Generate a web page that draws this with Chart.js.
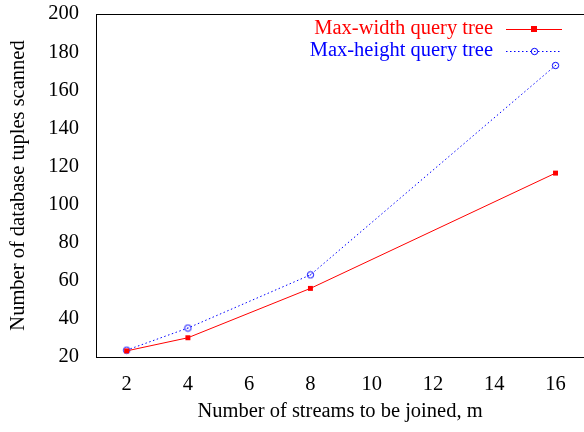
<!DOCTYPE html>
<html>
<head>
<meta charset="utf-8">
<script src="https://cdn.jsdelivr.net/npm/chart.js@4.4.1/dist/chart.umd.min.js"></script>
<style>
html,body{margin:0;padding:0;background:#fff}
#wrap{width:584px;height:432px}
</style>
</head>
<body>
<div id="wrap"><canvas id="c" width="584" height="432"></canvas></div>
<script>
// streams joined (m) and tuples scanned for each query tree
const streams = [2, 4, 8, 16]
const maxWidth = [23.2, 30.1, 56.0, 116.5]
const maxHeight = [23.6, 35.2, 63.1, 173.0]
const xTicks = [2, 4, 6, 8, 10, 12, 14, 16]
const yTicks = [20, 40, 60, 80, 100, 120, 140, 160, 180, 200]

const FONT = "'Liberation Serif', 'Times New Roman', serif"
const FS = 20.5

// open circle with a dot in the middle
function ringDot(){
let c=document.createElement("canvas")
c.width=9; c.height=9
let g=c.getContext("2d")
g.strokeStyle="#0000ff"
g.lineWidth=1
g.beginPath(); g.arc(4.5,4.5,3.2,0,Math.PI*2); g.stroke()
g.fillStyle="#0000ff"
g.fillRect(4,4,1,1)
return c
}
const ring=ringDot()

function pts(vals){
return streams.map((x,i)=>({x:x,y:vals[i]}))
}

/* top frame line + legend drawn inside the plot */
const frameLegend={
id:"frameLegend",
afterDraw(chart){
let ctx=chart.ctx, a=chart.chartArea
ctx.save()
ctx.strokeStyle="#000"
ctx.lineWidth=1
ctx.beginPath()
ctx.moveTo(a.left,a.top+0.5)
ctx.lineTo(a.right,a.top+0.5)
ctx.stroke()

ctx.font=FS+"px "+FONT
ctx.textAlign="right"
ctx.textBaseline="middle"
chart.data.datasets.forEach((ds,i)=>{
let y=28.5+i*22
ctx.fillStyle=ds.borderColor
ctx.fillText(ds.label,493,y)
ctx.strokeStyle=ds.borderColor
ctx.setLineDash(ds.borderDash||[])
ctx.beginPath()
ctx.moveTo(506,Math.round(y)+0.5)
ctx.lineTo(562,Math.round(y)+0.5)
ctx.stroke()
ctx.setLineDash([])
if(ds.pointStyle==="rect"){
ctx.fillStyle=ds.borderColor
ctx.fillRect(531,Math.round(y)-3,6,6)
}else{
ctx.drawImage(ring,530,Math.round(y)-4)
}
})
ctx.restore()
}
}

new Chart(document.getElementById("c"),{
type:"scatter",
data:{
datasets:[{
label:"Max-width query tree",
data:pts(maxWidth),
showLine:true,
borderColor:"#ff0000",
backgroundColor:"#ff0000",
borderWidth:1,
pointStyle:"rect",
pointRadius:3.5,
pointBorderWidth:0
},{
label:"Max-height query tree",
data:pts(maxHeight),
showLine:true,
borderColor:"#0000ff",
backgroundColor:"#0000ff",
borderWidth:1,
borderDash:[1.5,2.5],
pointStyle:ring,
pointRadius:4
}]
},
plugins:[frameLegend],
options:{
responsive:false,
animation:false,
layout:{autoPadding:false,padding:{top:14,right:0,left:0,bottom:0}},
plugins:{legend:{display:false},tooltip:{enabled:false}},
scales:{
x:{
type:"linear",
min:1,
max:16.93,
afterBuildTicks(s){ s.ticks=xTicks.map(v=>({value:v})) },
afterFit(s){ s.height=75; s.paddingLeft=0; s.paddingRight=0 },
grid:{display:false,drawOnChartArea:false,drawTicks:true,tickLength:5,color:"#000"},
border:{display:true,color:"#000",width:1},
ticks:{color:"#000",font:{family:FONT,size:FS},padding:10,maxRotation:0},
title:{display:true,text:"Number of streams to be joined, m",color:"#000",font:{family:FONT,size:FS},padding:{top:0,bottom:8}}
},
y:{
min:20,
max:200,
afterBuildTicks(s){ s.ticks=yTicks.map(v=>({value:v})) },
afterFit(s){ s.width=96; s.paddingTop=0; s.paddingBottom=0 },
grid:{display:false,drawOnChartArea:false,drawTicks:true,tickLength:5,color:"#000"},
border:{display:true,color:"#000",width:1},
ticks:{color:"#000",font:{family:FONT,size:FS},padding:12},
title:{display:true,text:"Number of database tuples scanned",color:"#000",font:{family:FONT,size:FS},padding:{top:6,bottom:0}}
}
}
}
})
</script>
</body>
</html>
